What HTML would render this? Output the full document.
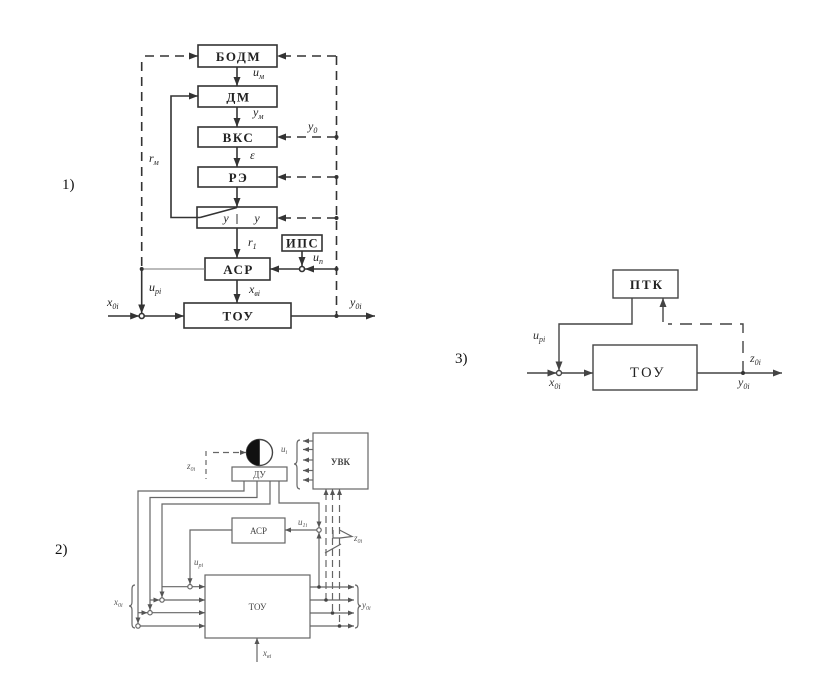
<!DOCTYPE html>
<html><head><meta charset="utf-8"><style>
html,body{margin:0;padding:0;background:#fff;}
svg{display:block;}
text{font-family:"Liberation Serif","DejaVu Serif",serif;}
</style></head><body>
<svg width="815" height="685" viewBox="0 0 815 685" xmlns="http://www.w3.org/2000/svg">
<defs>
<marker id="a1" markerUnits="userSpaceOnUse" markerWidth="9" markerHeight="7" refX="9" refY="3.5" orient="auto"><path d="M0,0 L9,3.5 L0,7 z" fill="#333"/></marker>
<marker id="a3" markerUnits="userSpaceOnUse" markerWidth="9" markerHeight="7" refX="9" refY="3.5" orient="auto"><path d="M0,0 L9,3.5 L0,7 z" fill="#444"/></marker>
<marker id="a2" markerUnits="userSpaceOnUse" markerWidth="6" markerHeight="5" refX="6" refY="2.5" orient="auto"><path d="M0,0 L6,2.5 L0,5 z" fill="#555"/></marker>
</defs>
<rect width="815" height="685" fill="#fff"/>

<!-- ================= Diagram 1 ================= -->
<text x="62" y="189" font-size="15" fill="#111">1)</text>
<g stroke="#333" stroke-width="1.6" fill="none">
  <rect x="198" y="45" width="79" height="22"/>
  <rect x="198" y="86" width="79" height="21"/>
  <rect x="198" y="127" width="79" height="20"/>
  <rect x="198" y="167" width="79" height="20"/>
  <rect x="197" y="207" width="80" height="21"/>
  <rect x="205" y="258" width="65" height="22"/>
  <rect x="282" y="235" width="40" height="16"/>
  <rect x="184" y="303" width="107" height="25"/>
  <line x1="237" y1="67" x2="237" y2="86" marker-end="url(#a1)"/>
  <line x1="237" y1="107" x2="237" y2="127" marker-end="url(#a1)"/>
  <line x1="237" y1="147" x2="237" y2="167" marker-end="url(#a1)"/>
  <line x1="237" y1="187" x2="237" y2="207" marker-end="url(#a1)"/>
  <line x1="237" y1="228" x2="237" y2="258" marker-end="url(#a1)"/>
  <line x1="237" y1="280" x2="237" y2="303" marker-end="url(#a1)"/>
  <polyline points="200,217.5 171,217.5 171,96 198,96" marker-end="url(#a1)"/>
  <line x1="200" y1="217.5" x2="237" y2="207.5"/>
  <line x1="237" y1="214" x2="237" y2="224" stroke-width="1"/>
  <line x1="302" y1="251" x2="302" y2="266" marker-end="url(#a1)"/>
  <line x1="336" y1="269" x2="305" y2="269" marker-end="url(#a1)"/>
  <line x1="299.5" y1="269" x2="270" y2="269" marker-end="url(#a1)"/>
  <line x1="205" y1="269" x2="141.7" y2="269" stroke="#777" stroke-width="1"/>
  <line x1="141.7" y1="269" x2="141.7" y2="313.5" marker-end="url(#a1)"/>
  <line x1="108" y1="316" x2="139.2" y2="316" marker-end="url(#a1)"/>
  <line x1="144.2" y1="316" x2="184" y2="316" marker-end="url(#a1)"/>
  <line x1="291" y1="316" x2="375" y2="316" marker-end="url(#a1)"/>
  <circle cx="302" cy="269" r="2.5" fill="#fff"/>
  <circle cx="141.7" cy="316" r="2.5" fill="#fff"/>
</g>
<g stroke="#333" stroke-width="1.6" fill="none" stroke-dasharray="9 6">
  <line x1="145" y1="56" x2="198" y2="56" marker-end="url(#a1)"/>
  <line x1="141.7" y1="62" x2="141.7" y2="268"/>
  <line x1="336" y1="56" x2="277" y2="56" marker-end="url(#a1)"/>
  <line x1="336.5" y1="56" x2="336.5" y2="316"/>
  <line x1="336" y1="137" x2="277" y2="137" marker-end="url(#a1)"/>
  <line x1="336" y1="177" x2="277" y2="177" marker-end="url(#a1)"/>
  <line x1="336" y1="218" x2="277" y2="218" marker-end="url(#a1)"/>
</g>
<g fill="#333">
  <circle cx="336.5" cy="137" r="2"/><circle cx="336.5" cy="177" r="2"/>
  <circle cx="336.5" cy="218" r="2"/><circle cx="336.5" cy="269" r="2"/>
  <circle cx="336.5" cy="316" r="2"/><circle cx="141.7" cy="269" r="2"/>
</g>
<g fill="#222" font-size="13" font-weight="bold" text-anchor="middle" letter-spacing="1.5">
  <text x="238.5" y="61">БОДМ</text>
  <text x="238.5" y="101.5">ДМ</text>
  <text x="238.5" y="142">ВКС</text>
  <text x="238.5" y="182">РЭ</text>
  <text x="238.5" y="274">АСР</text>
  <text x="302.5" y="247.5" font-size="12.5">ИПС</text>
  <text x="238.5" y="320.5">ТОУ</text>
</g>
<g fill="#222" font-size="12" font-style="italic">
  <text x="226" y="222" text-anchor="middle">y</text>
  <text x="257" y="222" text-anchor="middle">y</text>
  <text x="253" y="76">u<tspan font-size="8" dy="3">м</tspan></text>
  <text x="253" y="116">y<tspan font-size="8" dy="3">м</tspan></text>
  <text x="308" y="130">y<tspan font-size="8" dy="3">0</tspan></text>
  <text x="250" y="159">ε</text>
  <text x="149" y="162">r<tspan font-size="8" dy="3">м</tspan></text>
  <text x="248" y="246">r<tspan font-size="8" dy="3">1</tspan></text>
  <text x="313" y="261">u<tspan font-size="8" dy="3">п</tspan></text>
  <text x="149" y="291">u<tspan font-size="8" dy="3">pi</tspan></text>
  <text x="249" y="293">x<tspan font-size="8" dy="3">вi</tspan></text>
  <text x="107" y="306">x<tspan font-size="8" dy="3">0i</tspan></text>
  <text x="350" y="306">y<tspan font-size="8" dy="3">0i</tspan></text>
</g>

<!-- ================= Diagram 3 ================= -->
<text x="455" y="363" font-size="15" fill="#111">3)</text>
<g stroke="#444" stroke-width="1.4" fill="none">
  <rect x="613" y="270" width="65" height="28"/>
  <rect x="593" y="345" width="104" height="45"/>
  <line x1="527" y1="373" x2="556.5" y2="373" marker-end="url(#a3)"/>
  <line x1="561.5" y1="373" x2="593" y2="373" marker-end="url(#a3)"/>
  <line x1="697" y1="373" x2="782" y2="373" marker-end="url(#a3)"/>
  <polyline points="632,298 632,324 559,324 559,370.5" marker-end="url(#a3)"/>
  <line x1="663" y1="322" x2="663" y2="298" marker-end="url(#a3)"/>
  <polyline points="743,373 743,324 668,324" stroke-dasharray="12 8"/>
  <circle cx="559" cy="373" r="2.5" fill="#fff"/>
</g>
<circle cx="743" cy="373" r="2" fill="#333"/>
<g fill="#222" text-anchor="middle">
  <text x="647" y="289" font-size="13" font-weight="bold" letter-spacing="2">ПТК</text>
  <text x="648" y="377" font-size="14.5" letter-spacing="2.5">ТОУ</text>
</g>
<g fill="#333" font-size="12" font-style="italic">
  <text x="533" y="339">u<tspan font-size="8" dy="3">pi</tspan></text>
  <text x="549" y="386">x<tspan font-size="8" dy="3">0i</tspan></text>
  <text x="738" y="386">y<tspan font-size="8" dy="3">0i</tspan></text>
  <text x="750" y="362">z<tspan font-size="8" dy="3">0i</tspan></text>
</g>

<!-- ================= Diagram 2 ================= -->
<text x="55" y="554" font-size="15" fill="#111">2)</text>
<g stroke="#666" stroke-width="1.2" fill="none">
  <circle cx="259.5" cy="452.5" r="13" stroke="#444" stroke-width="1.4"/>
  <rect x="232" y="467" width="55" height="14"/>
  <rect x="313" y="433" width="55" height="56"/>
  <line x1="313" y1="441" x2="303" y2="441" marker-end="url(#a2)"/>
  <line x1="313" y1="449.5" x2="303" y2="449.5" marker-end="url(#a2)"/>
  <line x1="313" y1="460" x2="303" y2="460" marker-end="url(#a2)"/>
  <line x1="313" y1="470.5" x2="303" y2="470.5" marker-end="url(#a2)"/>
  <line x1="313" y1="480" x2="303" y2="480" marker-end="url(#a2)"/>
  <path d="M300,440 Q297,440 297,444 L297,460 Q297,464 294,464 Q297,464 297,468 L297,485 Q297,489 300,489"/>
  <line x1="206" y1="451" x2="206" y2="479" stroke-dasharray="5 4"/>
  <line x1="213" y1="452.5" x2="246" y2="452.5" stroke-dasharray="6 4" marker-end="url(#a2)"/>
  <polyline points="244,481 244,491 138,491 138,623.5" marker-end="url(#a2)"/>
  <polyline points="257,481 257,497.5 150,497.5 150,610.2" marker-end="url(#a2)"/>
  <polyline points="270,481 270,504 162,504 162,597.5" marker-end="url(#a2)"/>
  <polyline points="279,481 279,503 319,503 319,527.5" marker-end="url(#a2)"/>
  <rect x="232" y="518" width="53" height="25"/>
  <line x1="316.5" y1="530" x2="285" y2="530" marker-end="url(#a2)"/>
  <polyline points="232,530 190,530 190,584.2" marker-end="url(#a2)"/>
  <rect x="205" y="575" width="105" height="63"/>
  <line x1="162" y1="586.7" x2="205" y2="586.7" marker-end="url(#a2)"/>
  <line x1="150" y1="600" x2="159.5" y2="600" marker-end="url(#a2)"/>
  <line x1="164.5" y1="600" x2="205" y2="600" marker-end="url(#a2)"/>
  <line x1="138" y1="612.7" x2="147.5" y2="612.7" marker-end="url(#a2)"/>
  <line x1="152.5" y1="612.7" x2="205" y2="612.7" marker-end="url(#a2)"/>
  <line x1="140.5" y1="626" x2="205" y2="626" marker-end="url(#a2)"/>
  <line x1="310" y1="587" x2="354" y2="587" marker-end="url(#a2)"/>
  <line x1="310" y1="600" x2="354" y2="600" marker-end="url(#a2)"/>
  <line x1="310" y1="613" x2="354" y2="613" marker-end="url(#a2)"/>
  <line x1="310" y1="626" x2="354" y2="626" marker-end="url(#a2)"/>
  <line x1="319" y1="587" x2="319" y2="532.5" marker-end="url(#a2)"/>
  <line x1="326" y1="505" x2="326" y2="600" stroke-dasharray="7 4"/>
  <line x1="332.5" y1="505" x2="332.5" y2="613" stroke-dasharray="7 4"/>
  <line x1="339.5" y1="505" x2="339.5" y2="626" stroke-dasharray="7 4"/>
  <line x1="326" y1="500" x2="326" y2="489" marker-end="url(#a2)"/>
  <line x1="332.5" y1="500" x2="332.5" y2="489" marker-end="url(#a2)"/>
  <line x1="339.5" y1="500" x2="339.5" y2="489" marker-end="url(#a2)"/>
  <polyline points="333,530 333,538 340,538 352,536.5 339.5,530"/>
  <line x1="325" y1="553" x2="341" y2="544"/>
  <line x1="257" y1="662" x2="257" y2="638" marker-end="url(#a2)"/>
  <path d="M355,585 Q358,585 358,589 L358,602 Q358,606 361,606 Q358,606 358,610 L358,624 Q358,628 355,628"/>
  <path d="M135,585 Q132,585 132,589 L132,602 Q132,606 129,606 Q132,606 132,610 L132,624 Q132,628 135,628"/>
  <circle cx="138" cy="626" r="2.2" fill="#fff"/>
  <circle cx="150" cy="612.7" r="2.2" fill="#fff"/>
  <circle cx="162" cy="600" r="2.2" fill="#fff"/>
  <circle cx="190" cy="586.7" r="2.2" fill="#fff"/>
  <circle cx="319" cy="530" r="2.2" fill="#fff"/>
</g>
<path d="M259.5,439.5 A13,13 0 0,0 259.5,465.5 Z" fill="#111"/>
<line x1="259.5" y1="439.5" x2="259.5" y2="465.5" stroke="#444" stroke-width="1"/>
<g fill="#444">
  <circle cx="319" cy="587" r="1.8"/><circle cx="326" cy="600" r="1.8"/>
  <circle cx="332.5" cy="613" r="1.8"/><circle cx="339.5" cy="626" r="1.8"/>
</g>
<g fill="#444" font-size="9" text-anchor="middle">
  <text x="259.5" y="477.5">ДУ</text>
  <text x="340.5" y="465" font-weight="bold">УВК</text>
  <text x="258.5" y="534">АСР</text>
  <text x="257.5" y="610">ТОУ</text>
</g>
<g fill="#555" font-size="9" font-style="italic">
  <text x="281" y="452">u<tspan font-size="6" dy="2">i</tspan></text>
  <text x="187" y="469">z<tspan font-size="6" dy="2">0i</tspan></text>
  <text x="298" y="525">u<tspan font-size="6" dy="2">1i</tspan></text>
  <text x="354" y="541">z<tspan font-size="6" dy="2">0i</tspan></text>
  <text x="194" y="565">u<tspan font-size="6" dy="2">pi</tspan></text>
  <text x="362" y="608">y<tspan font-size="6" dy="2">0i</tspan></text>
  <text x="114" y="605">x<tspan font-size="6" dy="2">0i</tspan></text>
  <text x="263" y="656">x<tspan font-size="6" dy="2">вi</tspan></text>
</g>
</svg>
</body></html>
